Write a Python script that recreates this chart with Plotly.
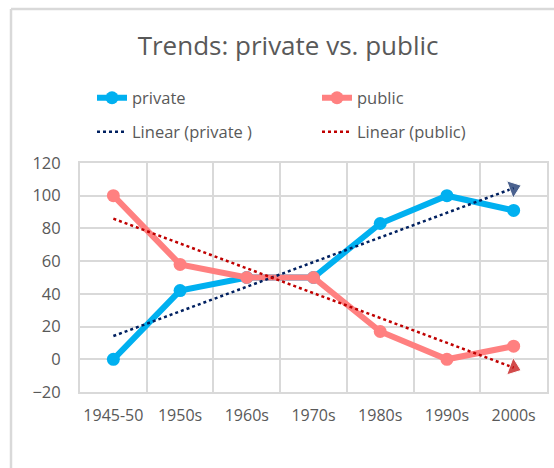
import numpy as np
import plotly.graph_objects as go

categories = ["1945-50", "1950s", "1960s", "1970s", "1980s", "1990s", "2000s"]
private = [0, 42, 50, 50, 83, 100, 91]
public = [100, 58, 50, 50, 17, 0, 8]
y_ticks = [-20, 0, 20, 40, 60, 80, 100, 120]

FONT = "Open Sans"
GRAY = "#595959"
GRID = "#d9d9d9"

idx = np.arange(len(categories))
def trend(vals):
    m, b = np.polyfit(idx, vals, 1)
    return list(m * idx + b)

tr_priv = trend(private)
tr_pub = trend(public)

fig = go.Figure()
fig.add_trace(go.Scatter(x=categories, y=private, name="private", mode="lines+markers",
                         line=dict(color="#00B0F0", width=6), marker=dict(size=13, color="#00B0F0"),
                         legend="legend"))
fig.add_trace(go.Scatter(x=categories, y=public, name="public", mode="lines+markers",
                         line=dict(color="#FF8080", width=6), marker=dict(size=13, color="#FF8080"),
                         legend="legend"))
fig.add_trace(go.Scatter(x=categories, y=tr_priv, name="Linear (private )", mode="lines",
                         line=dict(color="#002060", width=2.5, dash="dot"), legend="legend2"))
fig.add_trace(go.Scatter(x=categories, y=tr_pub, name="Linear (public)", mode="lines",
                         line=dict(color="#C00000", width=2.5, dash="dot"), legend="legend2"))
# arrow heads at trendline ends
for tr, col in [(tr_priv, "#002060"), (tr_pub, "#C00000")]:
    fig.add_trace(go.Scatter(x=categories[-2:], y=tr[-2:], mode="markers", showlegend=False,
                             hoverinfo="skip",
                             marker=dict(symbol="triangle-up", size=[0, 16], color=col,
                                         angleref="previous")))

W, H = 554, 468
L, R, T, B = 80, 7, 163, 76
pw, ph = W - L - R, H - T - B
def px(x):
    return (x - L) / pw
def py(y):
    return (H - B - y) / ph

fig.update_layout(
    width=W, height=H,
    margin=dict(l=L, r=R, t=T, b=B, autoexpand=False),
    paper_bgcolor="white", plot_bgcolor="white",
    font=dict(family=FONT, color=GRAY, size=16),
    title=dict(text="Trends: private vs. public", x=0.52, xanchor="center",
               y=1 - 46 / H, yanchor="middle", font=dict(size=26, color=GRAY, family=FONT)),
    legend=dict(orientation="h", xref="container", yref="container",
                x=92 / W, y=1 - 98 / H, xanchor="left", yanchor="middle",
                entrywidth=180, font=dict(size=16.5, color=GRAY), bgcolor="rgba(0,0,0,0)"),
    legend2=dict(orientation="h", xref="container", yref="container",
                 x=92 / W, y=1 - 132 / H, xanchor="left", yanchor="middle",
                 entrywidth=180, font=dict(size=16.5, color=GRAY), bgcolor="rgba(0,0,0,0)"),
    xaxis=dict(type="category", range=[-0.5, 6.5], tickson="boundaries", showgrid=True,
               gridcolor=GRID, gridwidth=2, ticks="", showline=True, linecolor=GRID, linewidth=2,
               mirror=True, tickfont=dict(size=16, color=GRAY), ticklabelstandoff=8,
               tickangle=0, automargin=False),
    yaxis=dict(range=[-20, 120], tickvals=y_ticks, showgrid=True, gridcolor=GRID, gridwidth=2,
               zeroline=False, ticks="", showline=True, linecolor=GRID, linewidth=2, mirror=True,
               tickfont=dict(size=16.5, color=GRAY), ticklabelstandoff=14, automargin=False),
    shapes=[
        dict(type="line", xref="paper", yref="paper", x0=px(11), x1=px(560), y0=py(9), y1=py(9),
             line=dict(color=GRID, width=2.5), layer="below"),
        dict(type="line", xref="paper", yref="paper", x0=px(11), x1=px(11), y0=py(9), y1=py(480),
             line=dict(color=GRID, width=2.5), layer="below"),
    ],
)

fig.write_html("out.html")
